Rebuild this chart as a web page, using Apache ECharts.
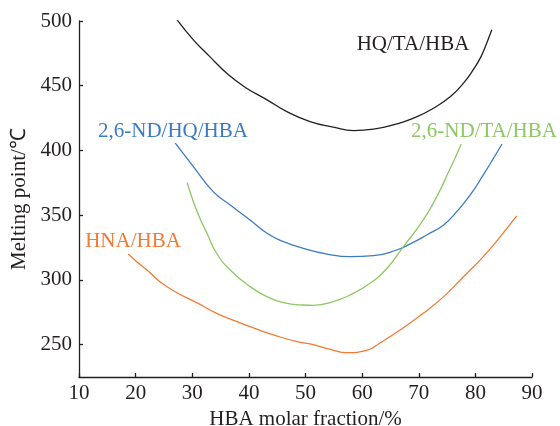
<!DOCTYPE html>
<html><head><meta charset="utf-8">
<script src="https://cdn.jsdelivr.net/npm/echarts@6/dist/echarts.min.js"></script>
<style>html,body{margin:0;padding:0;background:#fff}#c{width:560px;height:426px}</style>
</head><body><div id="c"></div>
<script>
// HQ/TA/HBA
const hqTaX = [27.1,30.2,33.1,36.4,39.6,43.2,46.7,50.8,54.9,58.5,62.0,65.5,69.1,72.6,75.6,77.9,79.6,81.0,82.0,82.9];
const hqTaY = [502.2,485.4,472.5,458.4,448.1,439.1,430.0,422.3,418.0,415.3,416.4,419.7,424.9,432.6,441.6,452.0,462.2,472.5,482.9,493.2];
// 2,6-ND/HQ/HBA
const ndHqX = [27.0,30.2,33.7,36.7,40.2,43.2,46.1,49.6,53.8,57.9,62.0,66.1,68.5,71.4,74.4,76.7,79.1,81.4,83.2,84.7];
const ndHqY = [405.6,387.5,368.2,357.9,346.3,336.0,329.6,324.4,320.0,318.0,318.7,323.1,327.8,334.7,342.5,352.7,365.6,381.1,394.0,405.0];
// 2,6-ND/TA/HBA
const ndTaX = [29.1,29.9,31.1,32.6,34.3,36.7,40.2,43.2,46.1,49.6,51.4,54.9,57.9,61.4,64.4,67.3,70.8,73.5,75.3,76.4,77.5];
const ndTaY = [375.2,364.3,350.2,336.0,320.6,307.7,294.8,287.1,282.4,280.6,280.4,283.2,288.4,297.4,309.0,325.7,346.3,367.0,383.7,394.0,405.0];
// HNA/HBA
const hnaX = [18.7,20.2,22.0,24.3,27.3,30.8,34.3,37.9,41.4,44.9,48.5,50.8,54.4,57.3,60.8,63.2,66.7,70.8,74.4,77.9,81.4,84.4,87.3];
const hnaY = [320.0,314.1,307.7,298.6,290.1,282.4,274.2,267.7,261.9,256.7,252.3,250.5,246.3,243.8,245.5,251.5,261.3,274.2,287.1,302.5,318.0,333.4,349.4];

const xTicks = [10,20,30,40,50,60,70,80,90];
const yTicks = [250,300,350,400,450,500];

const seriesNames = ['HQ/TA/HBA','2,6-ND/HQ/HBA','2,6-ND/TA/HBA','HNA/HBA'];
const seriesColors = ['#231f20','#3a7bc4','#8cc863','#f37a32'];
const seriesX = [hqTaX, ndHqX, ndTaX, hnaX];
const seriesY = [hqTaY, ndHqY, ndTaY, hnaY];

const font = '"Liberation Serif", "Times New Roman", serif';
const zip = (xs, ys) => xs.map((x, i) => [x, ys[i]]);

const chart = echarts.init(document.getElementById('c'), null, {renderer: 'canvas'});
chart.setOption({
  animation: false,
  backgroundColor: '#fff',
  grid: {left: 79, right: 28, top: 21, bottom: 49, containLabel: false, outerBoundsMode: 'none'},
  xAxis: {
    type: 'value', min: 10, max: 90, interval: 10,
    name: 'HBA molar fraction/%', nameLocation: 'middle', nameGap: 27,
    nameTextStyle: {fontFamily: font, fontSize: 21, color: '#231f20'},
    axisLine: {show: true, lineStyle: {color: '#231f20', width: 1.3}},
    axisTick: {show: true, inside: true, length: 4, lineStyle: {color: '#231f20', width: 1.3}},
    axisLabel: {fontFamily: font, fontSize: 21, color: '#231f20', margin: 6},
    splitLine: {show: false}
  },
  yAxis: {
    type: 'value', min: 225, max: 500, interval: 25,
    name: 'Melting point/℃', nameLocation: 'middle', nameGap: 45, nameRotate: 90,
    nameTextStyle: {fontFamily: font, fontSize: 21, color: '#231f20'},
    axisLine: {show: true, lineStyle: {color: '#231f20', width: 1.3}},
    axisTick: {show: true, inside: true, length: 4, customValues: yTicks, lineStyle: {color: '#231f20', width: 1.3}},
    axisLabel: {fontFamily: font, fontSize: 21, color: '#231f20', margin: 7, customValues: yTicks},
    splitLine: {show: false}
  },
  series: seriesNames.map((n, i) => ({
    name: n, type: 'line', data: zip(seriesX[i], seriesY[i]),
    smooth: 0.5, symbol: 'none', lineStyle: {color: seriesColors[i], width: 1.3}
  })),
  graphic: [
    {type: 'text', x: 413, y: 44, style: {text: seriesNames[0], fill: seriesColors[0], font: '21px ' + font, align: 'center', verticalAlign: 'middle'}},
    {type: 'text', x: 173, y: 131, style: {text: seriesNames[1], fill: seriesColors[1], font: '21px ' + font, align: 'center', verticalAlign: 'middle'}},
    {type: 'text', x: 484, y: 131, style: {text: seriesNames[2], fill: seriesColors[2], font: '21px ' + font, align: 'center', verticalAlign: 'middle'}},
    {type: 'text', x: 133, y: 241, style: {text: seriesNames[3], fill: seriesColors[3], font: '21px ' + font, align: 'center', verticalAlign: 'middle'}}
  ]
});
</script></body></html>
